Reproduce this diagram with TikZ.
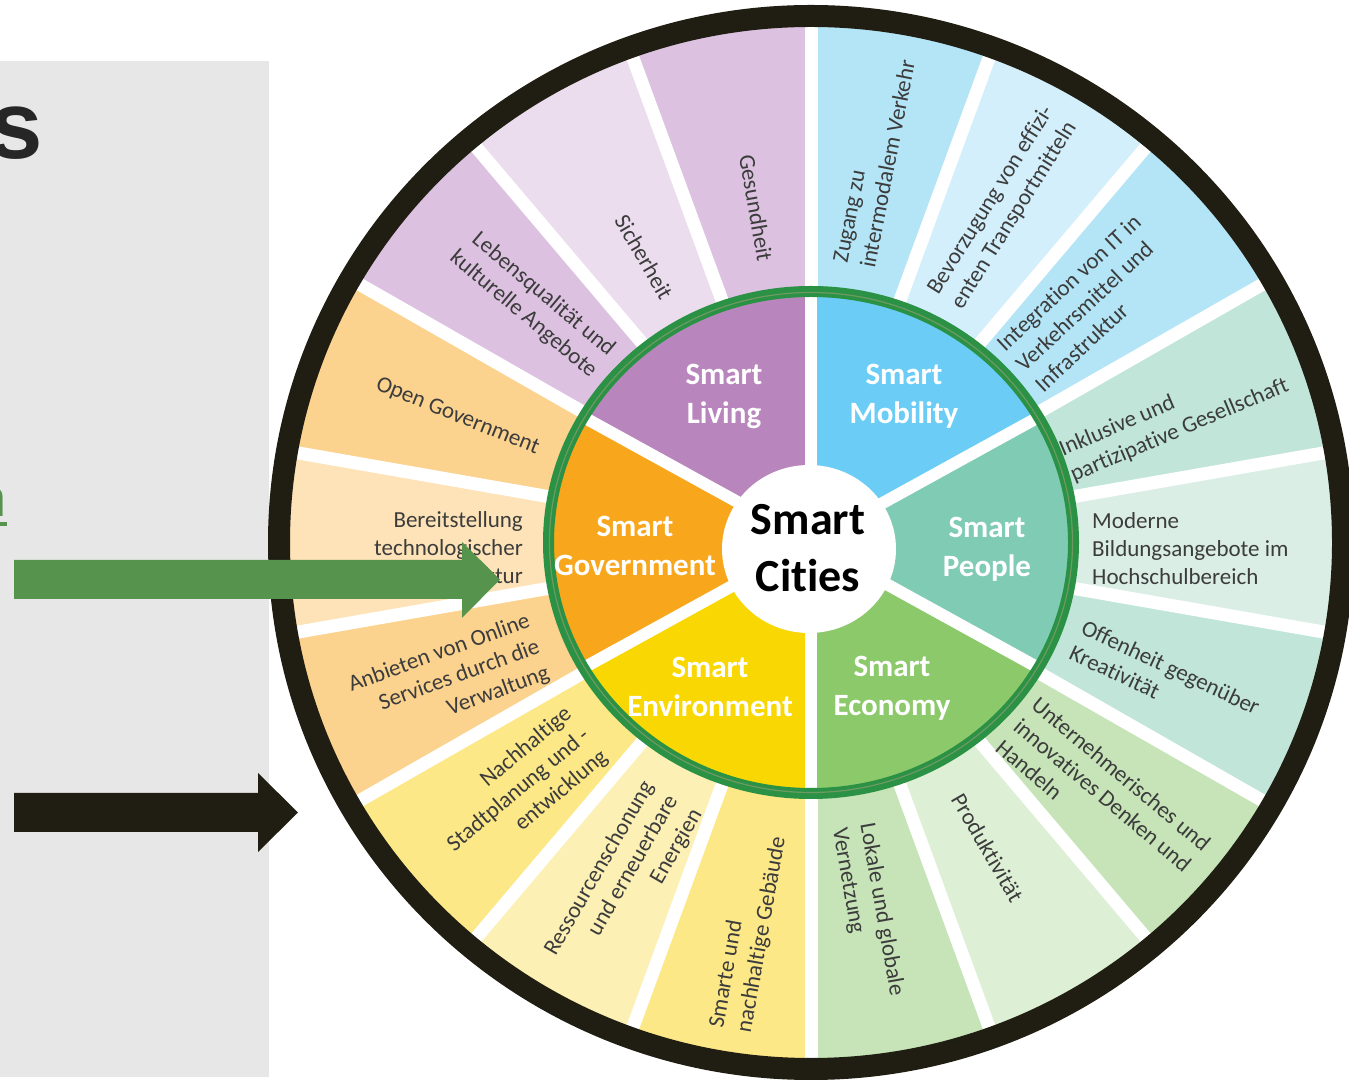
\documentclass[tikz,border=0pt]{standalone}
\usepackage{fontspec}
\setmainfont{Carlito}[Ligatures=NoCommon]
\newfontfamily\panelfont{Liberation Sans}
\definecolor{panelgray}{HTML}{E7E7E7}
\definecolor{darkink}{HTML}{262626}
\definecolor{arrowgreen}{HTML}{56934D}
\definecolor{ringblack}{HTML}{201E12}
\definecolor{ringgreen}{HTML}{2A9145}
\definecolor{ringmid}{HTML}{6E9A62}
\definecolor{txtgray}{HTML}{3C3C3C}
\definecolor{livI}{HTML}{B886BC}
\definecolor{mobI}{HTML}{6BCDF5}
\definecolor{peoI}{HTML}{7FCBB4}
\definecolor{ecoI}{HTML}{8CC96B}
\definecolor{envI}{HTML}{F9D703}
\definecolor{govI}{HTML}{F8A61C}
\definecolor{livD}{HTML}{DCC2E0}
\definecolor{livL}{HTML}{EBDDEE}
\definecolor{mobD}{HTML}{B4E5F6}
\definecolor{mobL}{HTML}{D3EFFB}
\definecolor{peoD}{HTML}{C1E6D9}
\definecolor{peoL}{HTML}{DAEEE6}
\definecolor{ecoD}{HTML}{C6E4B7}
\definecolor{ecoL}{HTML}{DDEFD4}
\definecolor{envD}{HTML}{FDE887}
\definecolor{envL}{HTML}{FCF0B4}
\definecolor{govD}{HTML}{FCD38E}
\definecolor{govL}{HTML}{FDE3B7}
\begin{document}
\begin{tikzpicture}[x=1pt,y=1pt,
  seglab/.style={font=\fontsize{23}{28}\selectfont, text=txtgray, inner sep=0pt},
  inlab/.style={font=\bfseries\fontsize{31}{39}\selectfont, text=white, align=center, inner sep=0pt}]
\useasboundingbox (0,0) rectangle (1349,1079);
\clip (0,0) rectangle (1349,1079);
\fill[white] (0,0) rectangle (1349,1079);
% left panel
\fill[panelgray] (0,2) rectangle (269,1018.3);
\node[font=\panelfont\bfseries\fontsize{96}{110}\selectfont, text=darkink, anchor=base east, inner sep=0pt] (bigs) at (43,920) {s};
\node[font=\panelfont\fontsize{52}{60}\selectfont, text=arrowgreen, anchor=base east, inner sep=0pt] (linkn) at (7,562) {n};
\fill[arrowgreen] (0,553) rectangle (7,557);
% wheel
\begin{scope}[shift={(811,536.5)}]
  \foreach \k/\col in {0/mobD,1/mobL,2/mobD,3/peoD,4/peoL,5/peoD,6/ecoD,7/ecoL,8/ecoD,9/envD,10/envL,11/envD,12/govD,13/govL,14/govD,15/livD,16/livL,17/livD}{
    \fill[\col] (0,0) -- ({90-20*\k}:526 and 521) arc[start angle={90-20*\k}, end angle={70-20*\k}, x radius=526, y radius=521] -- cycle;
  }
  \foreach \a in {90,70,...,-250}{
    \draw[white, line width=13pt] (0,0) -- (\a:530 and 525);
  }
  \foreach \k/\col in {0/mobI,1/peoI,2/ecoI,3/envI,4/govI,5/livI}{
    \fill[\col] (0,0) -- ({90-60*\k}:264 and 252) arc[start angle={90-60*\k}, end angle={30-60*\k}, x radius=264, y radius=252] -- cycle;
  }
  \foreach \a in {90,30,...,-270}{
    \draw[white, line width=12pt] (0,0) -- (\a:264 and 252);
  }
  \fill[white] (-2,-6.5) ellipse [x radius=87, y radius=84];
  \draw[ringgreen, line width=11pt] (0,0) ellipse [x radius=262.5, y radius=251];
  \draw[ringmid, line width=1.2pt] (0,0) ellipse [x radius=261.5, y radius=250];
  \draw[ringblack, line width=22pt] (0,0) ellipse [x radius=532, y radius=526.5];
\end{scope}
% inner labels
\node[inlab] (living) at (724,683) {Smart\\Living};
\node[inlab] (mobility) at (904,683) {Smart\\Mobility};
\node[inlab] (government) at (635,533) {Smart\\Government};
\node[inlab] (people) at (987,530) {Smart\\People};
\node[inlab] (environment) at (710,392) {Smart\\Environment};
\node[inlab] (economy) at (892,391) {Smart\\Economy};
\node[font=\bfseries\fontsize{46}{57}\selectfont, text=black, align=center, inner sep=0pt] (cities) at (808,531) {Smart\\Cities};
% outer labels
\node[seglab, rotate=-80] (gesund) at (756,871) {Gesundheit};
\node[seglab, rotate=-60] (sicher) at (644,822) {Sicherheit};
\node[seglab, rotate=-40, anchor=east, align=right] (leben) at (603,716) {Lebensqualität und\\kulturelle Angebote};
\node[seglab, rotate=-22] (opengov) at (457.5,662.5) {Open Government};
\node[seglab, anchor=east, align=right] (bereit) at (523,531) {Bereitstellung\\technologischer\\Infrastruktur};
\node[seglab, rotate=20, anchor=east, align=right] (anbieten) at (539,432) {Anbieten von Online\\Services durch die\\Verwaltung};
\node[seglab, rotate=40, anchor=east, align=right] (nachhaltig) at (587,346) {Nachhaltige\\Stadtplanung und -\\entwicklung};
\node[seglab, rotate=60, anchor=east, align=right] (ressourcen) at (673,282) {Ressourcenschonung\\und erneuerbare\\Energien};
\node[seglab, rotate=80, anchor=west, align=left] (gebaeude) at (731,49) {Smarte und\\nachhaltige Gebäude};
\node[seglab, rotate=-80, anchor=west, align=left] (lokale) at (852.5,253) {Lokale und globale\\Vernetzung};
\node[seglab, rotate=-60] (produkt) at (987.5,231.5) {Produktivität};
\node[seglab, rotate=-40, anchor=west, align=left] (unternehm) at (1017,356) {Unternehmerisches und\\innovatives Denken und\\Handeln};
\node[seglab, rotate=-25, anchor=west, align=left] (offenheit) at (1077,440) {Offenheit gegenüber\\Kreativität};
\node[seglab, anchor=west, align=left] (moderne) at (1092,530) {Moderne\\Bildungsangebote im\\Hochschulbereich};
\node[seglab, rotate=23, anchor=west, align=left] (inklusive) at (1066,615.5) {Inklusive und\\partizipative Gesellschaft};
\node[seglab, rotate=43, anchor=west, align=left] (integration) at (1019,712) {Integration von IT in\\Verkehrsmittel und\\Infrastruktur};
\node[seglab, rotate=58, anchor=west, align=left] (bevorzug) at (945,779) {Bevorzugung von effizi-\\enten Transportmitteln};
\node[seglab, rotate=79, anchor=west, align=left] (zugang) at (854,814) {Zugang zu\\intermodalem Verkehr};
% block arrows
\fill[arrowgreen] (14,519) -- (462,519) -- (462,537) -- (500,499.5) -- (462,461) -- (462,480) -- (14,480) -- cycle;
\fill[ringblack] (14,286) -- (258,286) -- (258,306) -- (298,266.5) -- (258,227) -- (258,247) -- (14,247) -- cycle;
\end{tikzpicture}
\end{document}
